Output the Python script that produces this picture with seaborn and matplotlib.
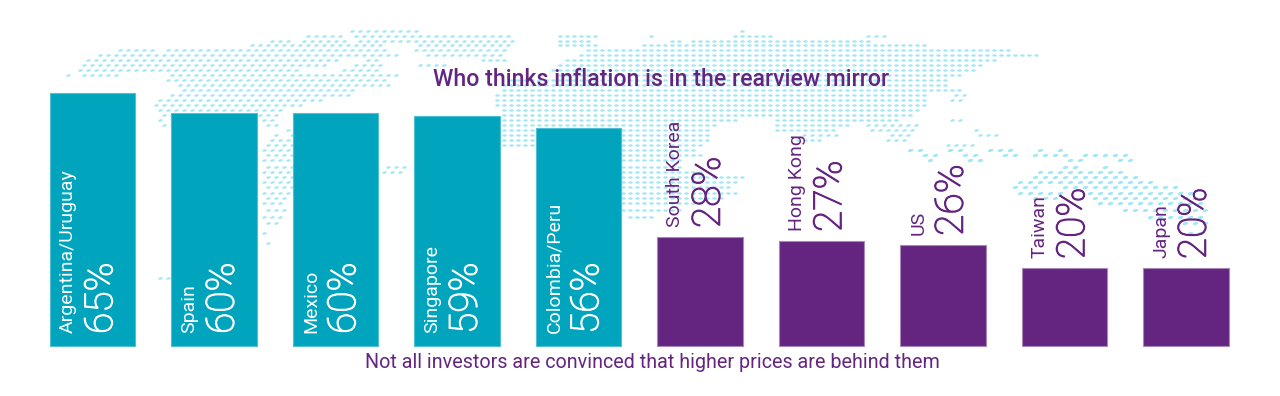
import numpy as np
import pandas as pd
import matplotlib
matplotlib.use("Agg")
import matplotlib.pyplot as plt
import matplotlib.patheffects as pe
from matplotlib.markers import MarkerStyle
from matplotlib.path import Path
from matplotlib.transforms import Affine2D
import seaborn as sns

# chart values
places = ["Argentina/Uruguay", "Spain", "Mexico", "Singapore", "Colombia/Peru",
          "South Korea", "Hong Kong", "US", "Taiwan", "Japan"]
shares = [65, 60, 60, 59, 56, 28, 27, 26, 20, 20]
groups = ["high"] * 5 + ["low"] * 5
title = "Who thinks inflation is in the rearview mirror"
note = "Not all investors are convinced that higher prices are behind them"

TEAL = "#00a5bd"
PURPLE = "#642580"
DOT = "#a2e7f6"

# dotted world map in the background: row height in pixels, then land spans
map_rows = [
    (31, [(345, 420), (737, 747)]),
    (36, [(303, 337), (345, 510), (560, 595), (650, 657), (730, 770), (857, 883)]),
    (41, [(267, 290), (300, 345), (355, 515), (560, 593), (670, 680), (690, 870)]),
    (45, [(247, 377), (415, 510), (560, 600), (640, 930)]),
    (50, [(117, 157), (167, 390), (415, 505), (585, 1010)]),
    (55, [(90, 397), (420, 500), (580, 1038)]),
    (60, [(87, 343), (363, 383), (483, 505), (565, 1000)]),
    (65, [(80, 320), (350, 382), (415, 440), (555, 985)]),
    (70, [(73, 303), (343, 380), (550, 975)]),
    (75, [(60, 70), (80, 113), (167, 393), (560, 960)]),
    (80, [(167, 390), (510, 950)]),
    (85, [(170, 385), (500, 950)]),
    (90, [(177, 357), (500, 965)]),
    (95, [(163, 350), (495, 925), (947, 967)]),
    (100, [(157, 327), (495, 925), (947, 965)]),
    (105, [(150, 303), (495, 930)]),
    (110, [(157, 283), (500, 920)]),
    (115, [(157, 277), (500, 915)]),
    (120, [(153, 167), (263, 277), (500, 735), (773, 900), (950, 960)]),
    (125, [(160, 170), (263, 277), (490, 720), (773, 850), (860, 915)]),
    (130, [(287, 293), (490, 712), (775, 833), (865, 917), (970, 977)]),
    (135, [(265, 275), (287, 293), (490, 712), (800, 833), (883, 910), (970, 993)]),
    (140, [(265, 290), (490, 712), (795, 825), (885, 905)]),
    (145, [(263, 290), (500, 536), (622, 700), (940, 970)]),
    (150, [(263, 290), (622, 695), (910, 923), (947, 967), (990, 1013), (1033, 1040), (1053, 1060)]),
    (155, [(263, 290), (622, 700), (917, 933), (960, 973), (997, 1013), (1027, 1060), (1077, 1120)]),
    (160, [(263, 290), (622, 680), (930, 937), (970, 983), (1070, 1087), (1117, 1133)]),
    (167, [(263, 290), (378, 402), (622, 680), (1053, 1077), (1093, 1100)]),
    (172, [(263, 290), (378, 402), (622, 700), (1033, 1127)]),
    (177, [(263, 290), (622, 743), (1027, 1133)]),
    (182, [(263, 290), (622, 735), (1020, 1150)]),
    (187, [(262, 288), (622, 733), (1007, 1033), (1060, 1170)]),
    (193, [(262, 288), (622, 737), (1013, 1060), (1087, 1193)]),
    (198, [(262, 286), (622, 725), (1027, 1050), (1090, 1198)]),
    (203, [(260, 285), (622, 705), (1100, 1200)]),
    (210, [(260, 283), (622, 680), (1120, 1200)]),
    (217, [(258, 280), (625, 657), (1147, 1200)]),
    (223, [(258, 278), (1173, 1200)]),
    (233, [(258, 270), (1187, 1200)]),
    (243, [(258, 266)]),
    (278, [(153, 170)]),
    (295, [(170, 172)]),
]

df = pd.DataFrame({"place": places, "share": shares, "group": groups})

fig = plt.figure(figsize=(12.8, 3.96), dpi=100)
plt.rcParams["font.family"] = ["Roboto", "DejaVu Sans"]

# background map
bg = fig.add_axes([0, 0, 1, 1], zorder=0)
bg.set_xlim(0, 1280)
bg.set_ylim(396, 0)
bg.axis("off")
blob = Path.unit_circle().transformed(Affine2D().scale(2.0, 1.05))
flat = MarkerStyle(blob)
slanted = MarkerStyle(blob.transformed(Affine2D().rotate_deg(14)))
for row, (y, spans) in enumerate(map_rows):
    for x0, x1 in spans:
        middle = 430 < x0 < 800
        far_east = x0 >= 800 and y >= 150
        step = 7.0 if middle else (10.0 if far_east else 8.0)
        xs = np.arange(np.ceil(x0 / step) * step, x1 + 1, step)
        if len(xs) == 0:
            xs = np.array([x0])
        if not middle:
            xs = xs + (row % 2) * step / 2
        bg.scatter(xs, [y] * len(xs), marker=flat if middle else slanted,
                   s=16 if far_east else 11, color=DOT, linewidths=0)

# bars
ax = fig.add_axes([0, 0, 1, 1], zorder=1)
ax.patch.set_alpha(0)
sns.barplot(data=df, x="place", y="share", hue="group", dodge=False, width=0.70,
            palette={"high": TEAL, "low": PURPLE}, legend=False, ax=ax,
            saturation=1, linewidth=0.8, edgecolor="#bfe3ea")
for c, col in zip(ax.containers, ["#4fc0d2", "#a987b8"]):
    for p in c:
        p.set_edgecolor(col)

ax.set_xlim(-92.5 / 121.5, (1280 - 92.5) / 121.5)
ax.set_ylim(-50 / 3.89, 346 / 3.89)
ax.axis("off")

for i, (name, val, g) in enumerate(zip(places, shares, groups)):
    inside = g == "high"
    col = "white" if inside else PURPLE
    base = 0 if inside else val
    pad = 13 if inside else 10
    ax.annotate(name, (i, base), xytext=(-24.5, pad), textcoords="offset pixels",
                rotation=90, ha="center", va="bottom", color=col, fontsize=14)
    # only a thin cut resolves here, thicken it a bit to read as light
    ax.annotate(f"{val}%", (i, base), xytext=(9, pad - 1), textcoords="offset pixels",
                rotation=90, ha="center", va="bottom", color=col, fontsize=28,
                fontweight="light",
                path_effects=[pe.withStroke(linewidth=0.8, foreground=col)])

fig.text(661 / 1280, 1 - 80 / 396, title, color=PURPLE, fontsize=16.7, fontweight="medium",
         ha="center", va="center", zorder=3)
fig.text(652 / 1280, 1 - 362 / 396, note, color=PURPLE, fontsize=14.2,
         ha="center", va="center", zorder=3)

fig.savefig("out.png", dpi=100)
